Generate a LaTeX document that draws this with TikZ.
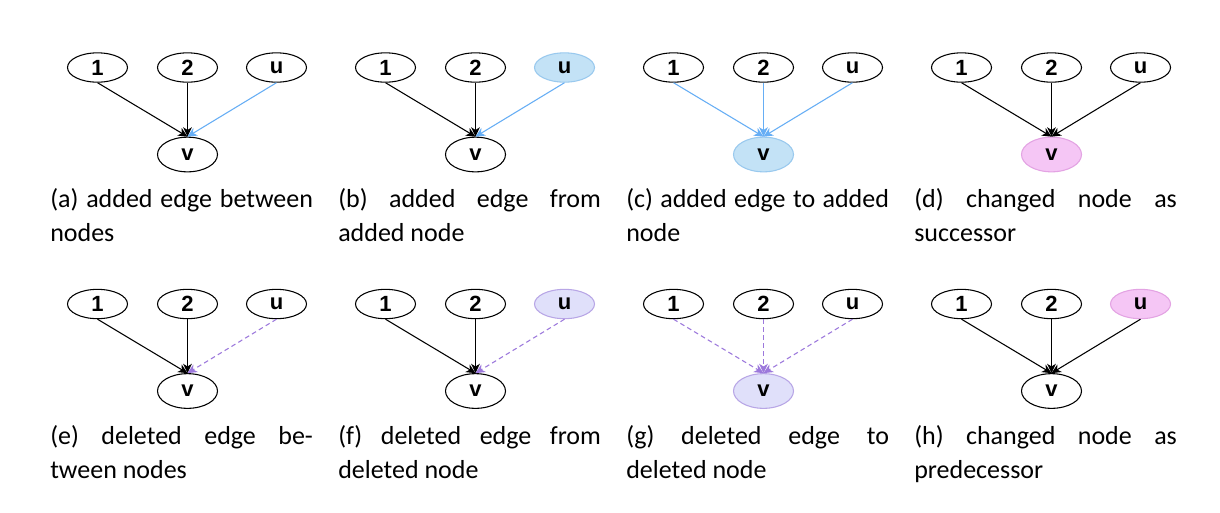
\documentclass[tikz,border=0pt]{standalone}
\usepackage{fontspec}
\setmainfont{Carlito}
\newfontfamily\nodefont{Liberation Sans}
\usetikzlibrary{arrows.meta,shapes.geometric}
\definecolor{addfill}{HTML}{C3E2F6}
\definecolor{adddraw}{HTML}{99C9EE}
\definecolor{addedge}{HTML}{66AEF5}
\definecolor{chgfill}{HTML}{F5C6F5}
\definecolor{chgdraw}{HTML}{E3A3E3}
\definecolor{delfill}{HTML}{E0E0FA}
\definecolor{deldraw}{HTML}{B8A6E6}
\definecolor{deledge}{HTML}{9C78DC}
\tikzset{
  gnode/.style={ellipse, draw=black, line width=0.8pt, minimum width=45pt, inner sep=0pt,
    font=\nodefont\bfseries\fontsize{16.5}{17}\selectfont},
  topnode/.style={gnode, minimum height=22pt},
  botnode/.style={gnode, minimum height=26pt},
  addnode/.style={fill=addfill, draw=adddraw},
  chgnode/.style={fill=chgfill, draw=chgdraw},
  delnode/.style={fill=delfill, draw=deldraw},
  plainnode/.style={},
  garrow/.style={-{Stealth[length=7pt,width=6.5pt,inset=2pt]}, line width=0.8pt},
  blk/.style={garrow, draw=black},
  addarrow/.style={garrow, draw=addedge},
  delarrow/.style={garrow, draw=deledge, dash pattern=on 3.5pt off 2.5pt},
  captext/.style={anchor=north west, inner sep=0pt, align=left,
    font=\fontsize{19.5}{25.5}\selectfont}
}
\newcommand\mypanel[9]{%
  \node[topnode] (#1one) at ({#2-90},{#3}) {1};
  \node[topnode] (#1two) at ({#2},{#3}) {2};
  \node[topnode,#4] (#1u) at ({#2+89},{#3}) {u};
  \node[botnode,#5] (#1v) at ({#2},{#3+87}) {v};
  \draw[#6] (#1one.south) -- (#1v.north);
  \draw[#7] (#1two.south) -- (#1v.north);
  \draw[#8] (#1u.south) -- (#1v.north);
  \node[captext] (#1cap) at ({#2-137.5},{#3+121}) {#9};
}
\begin{document}
\begin{tikzpicture}[x=0.75pt,y=-0.75pt]
\useasboundingbox[fill=white] (0,0) rectangle (1220,512);
\mypanel{a}{187.5}{67.5}{plainnode}{plainnode}{blk}{blk}{addarrow}{\makebox[197pt][s]{(a) added edge between}\\nodes}
\mypanel{b}{475.5}{67.5}{addnode}{plainnode}{blk}{blk}{addarrow}{\makebox[197pt][s]{(b) added edge from}\\added node}
\mypanel{c}{763.5}{67.5}{plainnode}{addnode}{addarrow}{addarrow}{addarrow}{\makebox[197pt][s]{(c) added edge to added}\\node}
\mypanel{d}{1051.5}{67.5}{plainnode}{chgnode}{blk}{blk}{blk}{\makebox[197pt][s]{(d) changed node as}\\successor}
\mypanel{e}{187.5}{304}{plainnode}{plainnode}{blk}{blk}{delarrow}{\makebox[197pt][s]{(e) deleted edge be-}\\tween nodes}
\mypanel{f}{475.5}{304}{delnode}{plainnode}{blk}{blk}{delarrow}{\makebox[197pt][s]{(f) deleted edge from}\\deleted node}
\mypanel{g}{763.5}{304}{plainnode}{delnode}{delarrow}{delarrow}{delarrow}{\makebox[197pt][s]{(g) deleted edge to}\\deleted node}
\mypanel{h}{1051.5}{304}{chgnode}{plainnode}{blk}{blk}{blk}{\makebox[197pt][s]{(h) changed node as}\\predecessor}
\end{tikzpicture}
\end{document}
